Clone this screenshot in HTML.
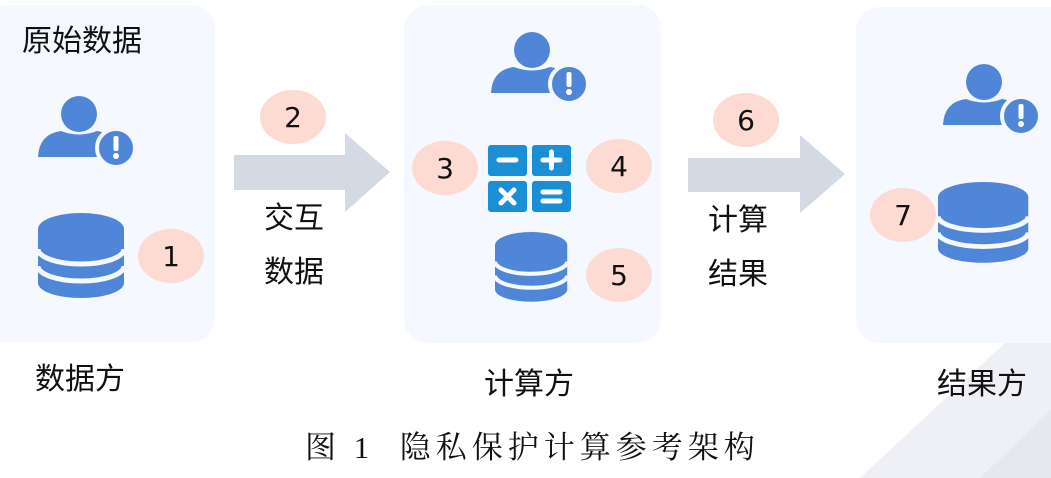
<!DOCTYPE html>
<html><head><meta charset="utf-8"><style>
html,body{margin:0;padding:0;background:#fff;}
body{width:1051px;height:478px;position:relative;overflow:hidden;font-family:"Liberation Sans","Noto Sans CJK SC",sans-serif;}
.t{position:absolute;color:#111;font-size:30px;line-height:1;white-space:nowrap;}
</style></head><body>
<svg width="1051" height="478" style="position:absolute;left:0;top:0">
<defs>
<g id="person">
<circle cx="0" cy="0" r="18" fill="#4f86d8"/>
<path d="M-41 43 Q-40 20 -18 17 Q0 24 18 17 Q40 20 42 43 Z" fill="#4f86d8"/>
<circle cx="37" cy="34" r="19" fill="#4f86d8" stroke="#f5f8fe" stroke-width="4"/>
<rect x="34.5" y="22" width="5" height="15" rx="2" fill="#fff"/>
<circle cx="37" cy="42" r="3" fill="#fff"/>
</g>
<g id="db">
<path d="M0 16 L0 70 A43 15 0 0 0 86 70 L86 16 Z" fill="#4f86d8"/>
<ellipse cx="43" cy="16" rx="43" ry="16" fill="#4f86d8"/>
<path d="M0 36 A43 15 0 0 0 86 36" fill="none" stroke="#f5f8fe" stroke-width="5"/>
<path d="M0 53 A43 15 0 0 0 86 53" fill="none" stroke="#f5f8fe" stroke-width="5"/>
</g>
</defs>
<polygon points="860,478 1051,300 1051,478" fill="#eff0f5"/>
<polygon points="980,478 1051,410 1051,478" fill="#e6e8ef"/>
<rect x="-20" y="5" width="235" height="337" rx="24" fill="#f5f8fe"/>
<rect x="404" y="5" width="257" height="338" rx="24" fill="#f5f8fe"/>
<rect x="856" y="7" width="220" height="336" rx="24" fill="#f5f8fe"/>
<polygon points="234,155 345,155 345,133 390,172 345,212 345,190 234,190" fill="#d3dae3"/>
<polygon points="688,158 800,158 800,135 845,174 800,213 800,192 688,192" fill="#d3dae3"/>
<use href="#person" transform="translate(79,114)"/>
<use href="#person" transform="translate(532,50)"/>
<use href="#person" transform="translate(984,82)"/>
<use href="#db" transform="translate(38,213)"/>
<use href="#db" transform="translate(495,232) scale(0.84,0.82)"/>
<use href="#db" transform="translate(938,182) scale(1.05,0.95)"/>
<g fill="#1b8fd6">
<rect x="488" y="145" width="39" height="31" rx="3"/>
<rect x="532" y="145" width="39" height="31" rx="3"/>
<rect x="488" y="181" width="39" height="31" rx="3"/>
<rect x="532" y="181" width="39" height="31" rx="3"/>
</g>
<g stroke="#fff" stroke-width="5" stroke-linecap="round">
<line x1="499" y1="160" x2="516" y2="160"/>
<line x1="543" y1="160" x2="560" y2="160"/><line x1="551.5" y1="152" x2="551.5" y2="168"/>
<line x1="501" y1="190" x2="514" y2="203"/><line x1="514" y1="190" x2="501" y2="203"/>
<line x1="543" y1="192" x2="560" y2="192"/><line x1="543" y1="201" x2="560" y2="201"/>
</g>
<g fill="#fddbd2">
<ellipse cx="171" cy="256" rx="33" ry="27"/>
<ellipse cx="293" cy="117" rx="33" ry="27"/>
<ellipse cx="445" cy="168" rx="33" ry="27"/>
<ellipse cx="619" cy="166" rx="33" ry="27"/>
<ellipse cx="619" cy="275" rx="33" ry="27"/>
<ellipse cx="746" cy="120" rx="33" ry="27"/>
<ellipse cx="903" cy="215" rx="33" ry="27"/>
</g>
<g font-family="DejaVu Sans, sans-serif" font-size="28" fill="#111" text-anchor="middle">
<text x="171" y="266">1</text><text x="293" y="127">2</text><text x="445" y="178">3</text>
<text x="619" y="176">4</text><text x="619" y="285">5</text><text x="746" y="130">6</text><text x="903" y="225">7</text>
</g>
</svg>
<div class="t" style="left:22px;top:27px">原始数据</div>
<div class="t" style="left:264px;top:204px">交互</div>
<div class="t" style="left:264px;top:258px">数据</div>
<div class="t" style="left:708px;top:206px">计算</div>
<div class="t" style="left:708px;top:260px">结果</div>
<div class="t" style="left:35px;top:365px">数据方</div>
<div class="t" style="left:484px;top:370px">计算方</div>
<div class="t" style="left:937px;top:370px">结果方</div>
<div class="t" style="left:305px;top:432px;font-family:'Liberation Serif','Noto Serif CJK SC',serif;font-size:31px;letter-spacing:5px">图 1 &nbsp;隐私保护计算参考架构</div>
</body></html>
